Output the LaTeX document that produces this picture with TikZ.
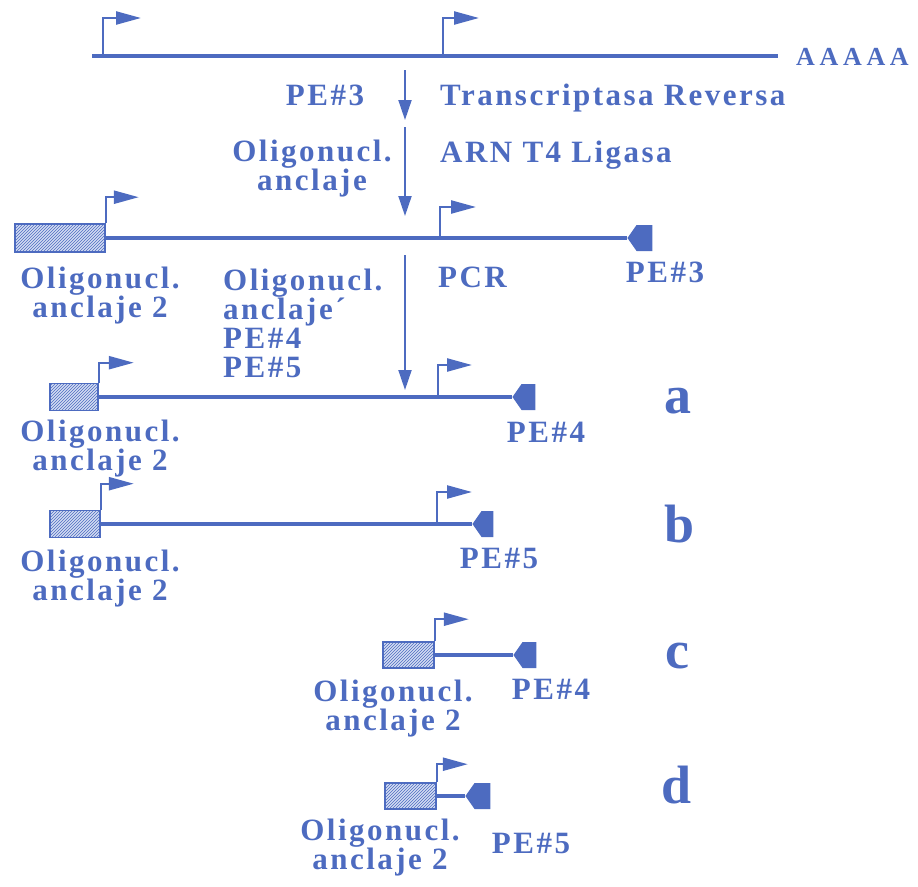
\documentclass[tikz,border=0pt]{standalone}
\usepackage{fontspec}
\usepackage{tikz}
\usetikzlibrary{arrows.meta,patterns,shapes.symbols}
\newfontfamily\labfont[LetterSpace=8]{Liberation Serif Bold}
\newfontfamily\polyfont[LetterSpace=18]{Liberation Serif Bold}
\definecolor{Blu}{HTML}{4D6BC0}
\definecolor{Hatch}{HTML}{D3DCF3}

\begin{document}
\begin{tikzpicture}[x=1pt,y=-1pt,
  dna/.style={draw=Blu,line width=3.2pt},
  flag/.style={draw=Blu,line width=2.4pt,-{Triangle[length=25pt,width=13pt]}},
  stepdown/.style={draw=Blu,line width=2pt,-{Triangle[length=20pt,width=13pt]}},
  oligo/.style={draw=Blu,line width=1.6pt,fill=Hatch,inner sep=0pt,
    postaction={pattern=north east lines,pattern color=Blu}},
  pe/.style={signal,signal to=west,signal pointer angle=110,fill=Blu,
    inner sep=0pt,minimum height=26pt},
  lbl/.style={text=Blu,inner sep=0pt,anchor=base,
    font=\labfont\fontsize{31}{29}\selectfont},
  big/.style={text=Blu,inner sep=0pt,anchor=base,
    font=\labfont\fontsize{54}{54}\selectfont}]
\useasboundingbox (0,0) rectangle (918,886);
% ARNm
\coordinate (m0) at (92,56);
\coordinate (m1) at (778,56);
\coordinate (mf1) at (103,56);
\coordinate (mf2) at (443,56);
\draw[dna] (m0) -- (m1);
\draw[flag] (mf1) |- +(38,-38);
\draw[flag] (mf2) |- +(36,-38);
\node[lbl,anchor=base west,font=\polyfont\fontsize{26}{26}\selectfont]
  (polya) at (796,65) {AAAAA};
% pasos
\coordinate (s1a) at (405,70);
\coordinate (s1b) at (405,120);
\coordinate (s2a) at (405,127);
\coordinate (s2b) at (405,216);
\coordinate (s3a) at (405,255);
\coordinate (s3b) at (405,390);
\draw[stepdown] (s1a) -- (s1b);
\draw[stepdown] (s2a) -- (s2b);
\draw[stepdown] (s3a) -- (s3b);
\node[lbl] (pe3t) at (325,105) {PE\#3};
\node[lbl,anchor=base west] (rt) at (440,105) {Transcriptasa Reversa};
\node[lbl,align=center] (anc1) at (312,190) {Oligonucl.\\anclaje};
\node[lbl,anchor=base west] (lig) at (440,162) {ARN T4 Ligasa};
\node[lbl,align=left,anchor=base west] (mix) at (223,377)
  {Oligonucl.\\anclaje´\\PE\#4\\PE\#5};
\node[lbl,anchor=base west] (pcr) at (438,287) {PCR};
% ADNc ligado
\node[oligo,minimum width=90pt,minimum height=28pt] (ol0) at (60,238) {};
\node[pe,minimum width=25pt] (pe0) at (644.5,238) {};
\coordinate (f0) at (440,238);
\draw[dna] (ol0.east) -- (pe0.west);
\draw[flag] (ol0.north east) |- +(33,-26);
\draw[flag] (f0) |- +(36,-31);
\node[lbl,align=center] (n0) at (100,317) {Oligonucl.\\anclaje 2};
\node[lbl] (pe3b) at (665,282) {PE\#3};
% a
\node[oligo,minimum width=48pt,minimum height=27pt] (ola) at (74,397) {};
\node[pe,minimum width=23pt] (pea) at (528.5,397) {};
\coordinate (fa) at (438,397);
\draw[dna] (ola.east) -- (pea.west);
\draw[flag] (ola.north east) |- +(35,-20);
\draw[flag] (fa) |- +(34,-32);
\node[lbl,align=center] (na) at (100,470) {Oligonucl.\\anclaje 2};
\node[lbl] (pe4a) at (546,442) {PE\#4};
\node[big] (la) at (678,413) {a};
% b
\node[oligo,minimum width=50pt,minimum height=27pt] (olb) at (75,524) {};
\node[pe,minimum width=21pt] (peb) at (487.5,524) {};
\coordinate (fb) at (437,524);
\draw[dna] (olb.east) -- (peb.west);
\draw[flag] (olb.north east) |- +(33,-26);
\draw[flag] (fb) |- +(35,-32);
\node[lbl,align=center] (nb) at (100,600) {Oligonucl.\\anclaje 2};
\node[lbl] (pe5b) at (499,568) {PE\#5};
\node[big] (lb) at (680,542) {b};
% c
\node[oligo,minimum width=51pt,minimum height=26pt] (olc) at (408.5,655) {};
\node[pe,minimum width=23pt] (pec) at (529.5,655) {};
\draw[dna] (olc.east) -- (pec.west);
\draw[flag] (olc.north east) |- +(34,-22);
\node[lbl,align=center] (nc) at (393,730) {Oligonucl.\\anclaje 2};
\node[lbl] (pe4c) at (551,699) {PE\#4};
\node[big] (lc) at (677,668) {c};
% d
\node[oligo,minimum width=51pt,minimum height=26pt] (old) at (410.5,796) {};
\node[pe,minimum width=25pt] (ped) at (482.5,796) {};
\draw[dna] (old.east) -- (ped.west);
\draw[flag] (old.north east) |- +(31,-18);
\node[lbl,align=center] (nd) at (380,869) {Oligonucl.\\anclaje 2};
\node[lbl] (pe5d) at (531,853) {PE\#5};
\node[big] (ld) at (677,803) {d};
\end{tikzpicture}
\end{document}
